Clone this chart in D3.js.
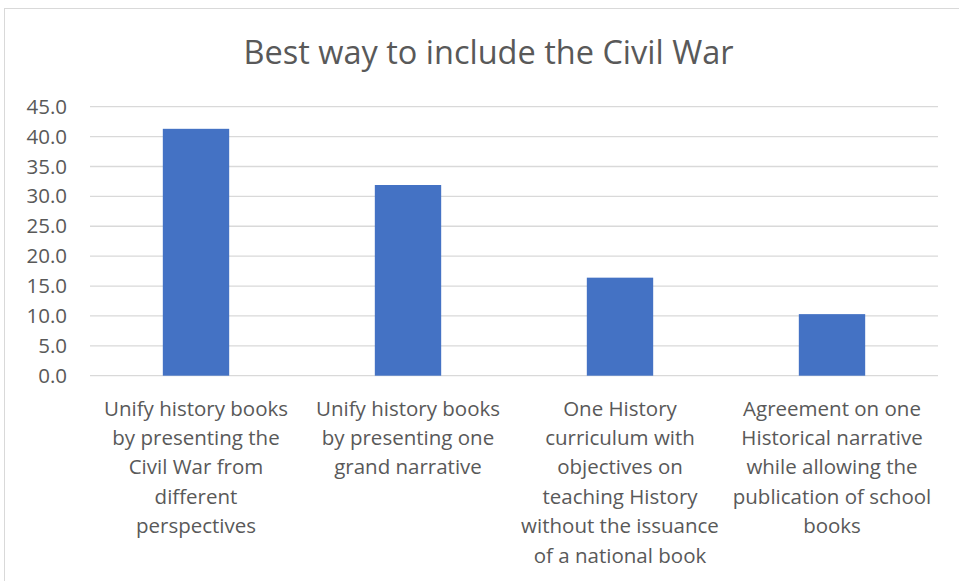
<!DOCTYPE html>
<html>
<head>
<meta charset="utf-8">
<script src="https://cdn.jsdelivr.net/npm/d3@7"></script>
<style>
  body { margin: 0; background: #fff; }
  text { font-family: "Open Sans", Lato, sans-serif; fill: #595959; }
</style>
</head>
<body>
<div id="chart"></div>
<script>
var width = 959;
var height = 581;

// survey shares, one bar per option
var categories = [
  "Unify history books\nby presenting the\nCivil War from\ndifferent\nperspectives",
  "Unify history books\nby presenting one\ngrand narrative",
  "One History\ncurriculum with\nobjectives on\nteaching History\nwithout the issuance\nof a national book",
  "Agreement on one\nHistorical narrative\nwhile allowing the\npublication of school\nbooks"
];
var values = [41.3, 31.9, 16.4, 10.3];
var yTicks = [0, 5, 10, 15, 20, 25, 30, 35, 40, 45];
var title = "Best way to include the Civil War";

var plot = { left: 90, right: 938, top: 106.7, bottom: 375.7 };

var svg = d3.select("#chart")
  .append("svg")
  .attr("width", width)
  .attr("height", height);

// chart area frame
svg.append("rect")
  .attr("x", 4.5)
  .attr("y", 8.5)
  .attr("width", width + 10)
  .attr("height", height + 10)
  .attr("fill", "#fff")
  .attr("stroke", "#d9d9d9")
  .attr("stroke-width", 1);

var xScale = d3.scaleBand()
  .domain(d3.range(categories.length))
  .range([plot.left, plot.right])
  .paddingInner(0.687)
  .paddingOuter(0.687 / 2);

var yScale = d3.scaleLinear()
  .domain([0, 45])
  .range([plot.bottom, plot.top]);

// gridlines
svg.selectAll(".grid")
  .data(yTicks)
  .enter().append("line")
  .attr("x1", plot.left)
  .attr("x2", plot.right)
  .attr("y1", function(d) { return yScale(d); })
  .attr("y2", function(d) { return yScale(d); })
  .attr("stroke", "#d9d9d9")
  .attr("stroke-width", 1.3);

// y axis labels
var yAxis = d3.axisLeft(yScale)
  .tickValues(yTicks)
  .tickFormat(d3.format(".1f"))
  .tickSize(0)
  .tickPadding(0);

var yG = svg.append("g")
  .attr("transform", "translate(67,0)")
  .call(yAxis);
yG.select(".domain").remove();
yG.selectAll("text")
  .attr("fill", "#595959")
  .style("font-size", "20.5px");

// bars
svg.selectAll(".bar")
  .data(values)
  .enter().append("rect")
  .attr("x", function(d, i) { return xScale(i); })
  .attr("y", function(d) { return yScale(d); })
  .attr("width", xScale.bandwidth())
  .attr("height", function(d) { return yScale(0) - yScale(d); })
  .attr("fill", "#4472c4");

// category labels, one tspan per line
var catLabels = svg.selectAll(".cat")
  .data(categories)
  .enter().append("text")
  .attr("text-anchor", "middle")
  .attr("y", 415.5)
  .style("font-size", "20.5px");

catLabels.selectAll("tspan")
  .data(function(d, i) {
    return d.split("\n").map(function(s) { return { s: s, i: i }; });
  })
  .enter().append("tspan")
  .attr("x", function(d) { return xScale(d.i) + xScale.bandwidth() / 2; })
  .attr("dy", function(d, j) { return j === 0 ? 0 : 29.4; })
  .text(function(d) { return d.s; });

// title
svg.append("text")
  .attr("x", 488.5)
  .attr("y", 64)
  .attr("text-anchor", "middle")
  .style("font-size", "32.5px")
  .text(title);
</script>
</body>
</html>
